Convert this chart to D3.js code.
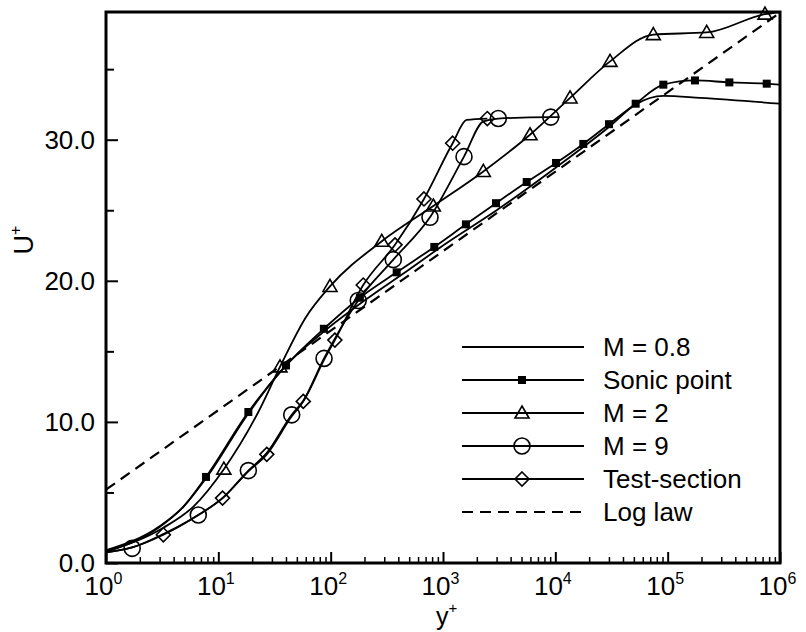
<!DOCTYPE html>
<html><head><meta charset="utf-8">
<script src="https://cdn.jsdelivr.net/npm/d3@7"></script>
<style>
body{margin:0;background:#fff}
svg{display:block}
text{font-family:"Liberation Sans",Arial,Helvetica,sans-serif;fill:#000}
</style>
</head><body>
<svg id="c" width="806" height="632"></svg>
<script>
// ---- data: [y+, U+] ----
const m08Line = [[1,0.8],[3,2.55],[4.9,4.0],[7.77,6.0],[18.5,10.6],[40,14.0],[87,16.4],[200,18.6],[500,20.8],[1000,22.5],[3000,25.0],[10000,28.0],[30000,30.9],[51900,32.5],[91500,33.1],[194000,32.96],[1000000,32.55]];

const sonicLine = [[1,0.9],[3,2.6],[4.9,4.0],[7.77,6.1],[18.5,10.7],[40,14.0],[87,16.6],[182,18.8],[387,20.6],[837,22.4],[1600,24.0],[2965,25.5],[5560,27.0],[10140,28.35],[17740,29.7],[30060,31.1],[51900,32.55],[91500,33.9],[175000,34.2],[354000,34.06],[762000,33.97],[1000000,33.9]];
const sonicMarkers = [[7.77,6.1],[18.5,10.7],[40,14.0],[87,16.6],[182,18.8],[387,20.6],[837,22.4],[1600,24.0],[2965,25.5],[5560,27.0],[10140,28.35],[17740,29.7],[30060,31.1],[51900,32.55],[91500,33.9],[175000,34.2],[354000,34.06],[762000,33.97]];

const m2Line = [[1,0.8],[3.24,2.5],[6.0,4.0],[11.2,6.65],[22.7,10.7],[35.4,13.9],[60,17.4],[98.6,19.6],[285,22.8],[820,25.3],[2286,27.75],[5950,30.35],[13520,32.96],[30690,35.55],[74500,37.45],[222600,37.6],[735000,38.9],[1000000,39.05]];
const m2Markers = [[11.2,6.65],[35.4,13.9],[98.6,19.6],[285,22.8],[820,25.3],[2286,27.75],[5950,30.35],[13520,32.96],[30690,35.55],[74500,37.45],[222600,37.6],[735000,38.9]];

const m9Line = [[1,0.75],[1.71,1.1],[3.24,2.05],[6.63,3.4],[10.9,4.6],[18.5,6.55],[27,7.8],[45,10.5],[57,11.5],[87.3,14.5],[109,15.9],[176,18.6],[361,21.5],[766,24.5],[1538,28.8],[2290,31.3],[3107,31.5],[9100,31.6],[10900,31.6]];
const m9Markers = [[1.71,1.04],[6.63,3.4],[18.5,6.55],[45,10.5],[87.3,14.5],[176,18.6],[361,21.5],[766,24.5],[1538,28.8],[3107,31.5],[9100,31.6]];

const tsLine = [[1,0.75],[1.71,1.1],[3.24,2.0],[6.63,3.4],[10.9,4.6],[18.5,6.5],[27,7.7],[45,10.4],[57,11.45],[87.3,14.4],[109,15.8],[195,19.7],[374,22.55],[677,25.8],[1219,29.75],[1625,31.4],[2480,31.5]];
const tsMarkers = [[3.24,2.0],[10.9,4.6],[27,7.7],[57,11.45],[109,15.8],[195,19.7],[374,22.55],[677,25.8],[1219,29.75],[2480,31.5]];

const logLaw = [[1,5.2],[1000000,39.0]];

const legendLabels = ["M = 0.8","Sonic point","M = 2","M = 9","Test-section","Log law"];
const legendMarkers = ["none","square","triangle","circle","diamond","dash"];
const yMajorTicks = [0,10,20,30];
const yMinorTicks = [5,15,25,35];
const yTickLabels = ["0.0","10.0","20.0","30.0"];
const xMajorTicks = [1,10,100,1000,10000,100000,1000000];
const xExponents = ["0","1","2","3","4","5","6"];

// ---- chart ----
const svg = d3.select("#c");
svg.append("rect").attr("width",806).attr("height",632).attr("fill","#fff");
const x = d3.scaleLog().domain([1,1e6]).range([106,780]);
const y = d3.scaleLinear().domain([0,39.05]).range([563,12]);

svg.append("clipPath").attr("id","clip").append("rect")
  .attr("x",106).attr("y",12).attr("width",674).attr("height",551);

const xMinor = [];
for (let d=0; d<6; d++) for (let k=2;k<=9;k++) xMinor.push(k*Math.pow(10,d));

// minor ticks
svg.append("g").attr("transform","translate(0,563)")
  .call(d3.axisBottom(x).tickValues(xMinor).tickSize(-6).tickFormat(""))
  .call(g=>{g.select(".domain").remove(); g.selectAll("line").attr("stroke","#000").attr("stroke-width",1.5);});
const xg = svg.append("g").attr("transform","translate(0,563)")
  .call(d3.axisBottom(x).tickValues(xMajorTicks).tickSize(-11).tickPadding(14).tickFormat(""))
  .call(g=>{g.select(".domain").remove(); g.selectAll("line").attr("stroke","#000").attr("stroke-width",2);});
xg.selectAll(".tick text").each(function(d,i){
  const t = d3.select(this).attr("font-size",26).attr("dy","0.71em").attr("dx",-3);
  t.text("10");
  t.append("tspan").attr("font-size",16).attr("dy",-11).text(xExponents[i]);
});

svg.append("g").attr("transform","translate(106,0)")
  .call(d3.axisLeft(y).tickValues(yMinorTicks).tickSize(-8).tickFormat(""))
  .call(g=>{g.select(".domain").remove(); g.selectAll("line").attr("stroke","#000").attr("stroke-width",2);});
svg.append("g").attr("transform","translate(106,0)")
  .call(d3.axisLeft(y).tickValues(yMajorTicks).tickSize(-12).tickPadding(11).tickFormat((d,i)=>yTickLabels[i]))
  .call(g=>{g.select(".domain").remove(); g.selectAll("line").attr("stroke","#000").attr("stroke-width",2);
    g.selectAll("text").attr("font-size",26).attr("fill","#000");});

// lines
const plot = svg.append("g").attr("clip-path","url(#clip)");
const lineGen = d3.line().x(d=>x(d[0])).y(d=>y(d[1])).curve(d3.curveMonotoneX);
plot.append("path").datum(logLaw).attr("d",d3.line().x(d=>x(d[0])).y(d=>y(d[1])))
  .attr("fill","none").attr("stroke","#000").attr("stroke-width",2.2).attr("stroke-dasharray","11,7");
[m08Line,sonicLine,m2Line,m9Line,tsLine].forEach(s=>{
  plot.append("path").datum(s).attr("d",lineGen).attr("fill","none").attr("stroke","#000").attr("stroke-width",1.8);
});

function drawMarker(g, type, cx, cy){
  if(type==="square") g.append("rect").attr("x",cx-4).attr("y",cy-4).attr("width",8).attr("height",8).attr("fill","#000");
  else if(type==="triangle") g.append("path").attr("d",`M${cx},${cy-7}L${cx+7},${cy+5}L${cx-7},${cy+5}Z`).attr("fill","none").attr("stroke","#000").attr("stroke-width",1.6);
  else if(type==="circle") g.append("circle").attr("cx",cx).attr("cy",cy).attr("r",8).attr("fill","none").attr("stroke","#000").attr("stroke-width",1.6);
  else if(type==="diamond") g.append("path").attr("d",`M${cx},${cy-7}L${cx+7},${cy}L${cx},${cy+7}L${cx-7},${cy}Z`).attr("fill","none").attr("stroke","#000").attr("stroke-width",1.6);
}
const mg = svg.append("g");
sonicMarkers.forEach(d=>drawMarker(mg,"square",x(d[0]),y(d[1])));
m2Markers.forEach(d=>drawMarker(mg,"triangle",x(d[0]),y(d[1])));
m9Markers.forEach(d=>drawMarker(mg,"circle",x(d[0]),y(d[1])));
tsMarkers.forEach(d=>drawMarker(mg,"diamond",x(d[0]),y(d[1])));

// frame
svg.append("rect").attr("x",106).attr("y",12).attr("width",674).attr("height",551)
  .attr("fill","none").attr("stroke","#000").attr("stroke-width",3);

// legend
const lg = svg.append("g");
legendLabels.forEach((lab,i)=>{
  const ry = 347 + i*33;
  const ln = lg.append("line").attr("x1",462).attr("x2",584).attr("y1",ry).attr("y2",ry)
    .attr("stroke","#000").attr("stroke-width",1.8);
  if(legendMarkers[i]==="dash") ln.attr("stroke-dasharray","11,7").attr("stroke-width",2.2);
  else drawMarker(lg, legendMarkers[i], 522, ry);
  lg.append("text").attr("x",603).attr("y",ry+9).attr("font-size",26).text(lab);
});

// axis titles
const xt = svg.append("text").attr("x",436).attr("y",625).attr("font-size",25).text("y");
xt.append("tspan").attr("font-size",15).attr("dy",-12).text("+");
const yt = svg.append("text").attr("transform","translate(33,240) rotate(-90)").attr("text-anchor","middle").attr("font-size",27).text("U");
yt.append("tspan").attr("font-size",16).attr("dy",-12).text("+");
</script>
</body></html>
